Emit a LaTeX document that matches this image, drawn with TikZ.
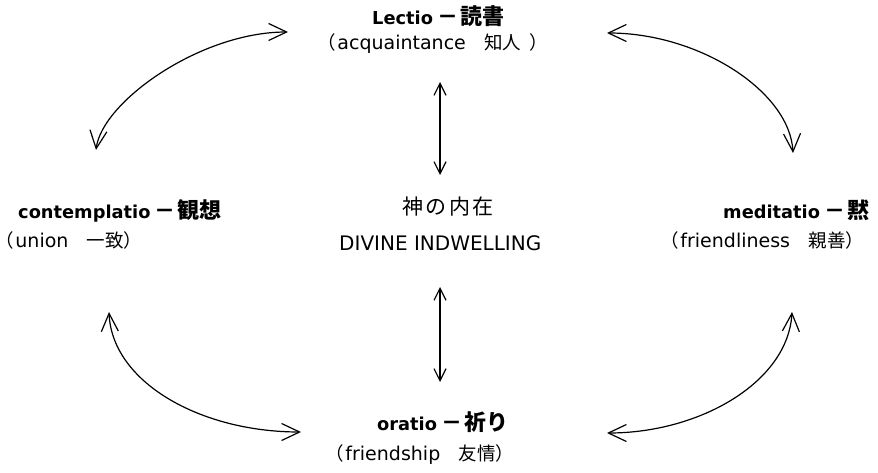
\documentclass[tikz,border=0pt]{standalone}
\usepackage{fontspec}
\setmainfont{DejaVu Sans}
\newfontfamily\lat{DejaVu Sans}
\newfontfamily\jp{Noto Sans CJK JP}
\newfontfamily\jpp[RawFeature=+palt]{Noto Sans CJK JP}
\newfontfamily\jpwide[LetterSpace=12]{Noto Sans CJK JP}
\usetikzlibrary{arrows.meta}
% heading: bold Latin name, a short dash, larger bold kanji
\newcommand{\hlat}[1]{{\lat\bfseries\fontsize{17.8}{22}\selectfont #1}}
\newcommand{\hjp}[1]{{\jp\bfseries\fontsize{22}{26}\selectfont #1}}
\newcommand{\hdash}{\hspace{9pt}\makebox[12pt]{\jp\bfseries\fontsize{21}{24}\selectfont －}\hspace{6pt}}
% gloss: Latin word, kanji and brackets
\newcommand{\glat}[1]{{\lat\fontsize{19}{22}\selectfont #1}}
\newcommand{\gjp}[1]{{\jp\fontsize{18.5}{22}\selectfont #1}}
\newcommand{\gopen}{{\jpp\fontsize{18.5}{22}\selectfont （}\hspace{2pt}}
\newcommand{\gclose}{{\jp\fontsize{18.5}{22}\selectfont ）}}
\tikzset{
  lbl/.style={inner sep=0pt, anchor=base west},
  cyclearrow/.style={line width=1.2pt, {Straight Barb[length=18pt,width=17pt]}-{Straight Barb[length=18pt,width=17pt]}},
  link/.style={line width=1.2pt, {Straight Barb[length=12pt,width=12pt]}-{Straight Barb[length=12pt,width=12pt]}}
}
\begin{document}
\begin{tikzpicture}[x=1pt,y=1pt]
\useasboundingbox (0,0) rectangle (878,472);

% the four stages
\node[lbl] (lectio)     at (372,447) {\hlat{Lectio}\hdash\hjp{読書}};
\node[lbl] (lectioSub)  at (326,422) {\gopen\glat{acquaintance}\gjp{　知人}\hspace{8pt}\gclose};
\node[lbl] (contemp)    at (18,254)  {\hlat{contemplatio}\hdash\hjp{観想}};
\node[lbl] (contempSub) at (4,225)   {\gopen\glat{union}\gjp{　一致}\gclose};
\node[lbl] (medit)      at (723,254) {\hlat{meditatio}\hdash\hjp{黙}};
\node[lbl] (meditSub)   at (669,225) {\gopen\glat{friendliness}\gjp{　親善}\gclose};
\node[lbl] (oratio)     at (377,42)  {\hlat{oratio}\hdash\hjp{祈り}};
\node[lbl] (oratioSub)  at (334,12)  {\gopen\glat{friendship}\gjp{　友情}\gclose};

% the centre
\node[lbl] (god)    at (402,258) {\jpwide\fontsize{21}{24}\selectfont 神の内在};
\node[lbl] (godSub) at (339,222) {\lat\fontsize{20}{24}\selectfont DIVINE INDWELLING};

% arrow ends
\coordinate (tlA) at (96,322);  \coordinate (tlB) at (288,440);
\coordinate (trA) at (607,439); \coordinate (trB) at (793,319);
\coordinate (blA) at (109,160); \coordinate (blB) at (301,40);
\coordinate (brA) at (792,160); \coordinate (brB) at (607,39);
\coordinate (upA) at (440,390); \coordinate (upB) at (440,297);
\coordinate (dnA) at (440,185); \coordinate (dnB) at (440,90);

% curved cycle arrows
\draw[cyclearrow] (tlA) .. controls (102,370) and (200,440) .. (tlB);
\draw[cyclearrow] (trA) .. controls (700,439) and (790,380) .. (trB);
\draw[cyclearrow] (blA) .. controls (112,90) and (200,40) .. (blB);
\draw[cyclearrow] (brA) .. controls (788,90) and (700,39) .. (brB);

% links to the centre
\draw[link] (upA) -- (upB);
\draw[link] (dnA) -- (dnB);
\end{tikzpicture}
\end{document}
